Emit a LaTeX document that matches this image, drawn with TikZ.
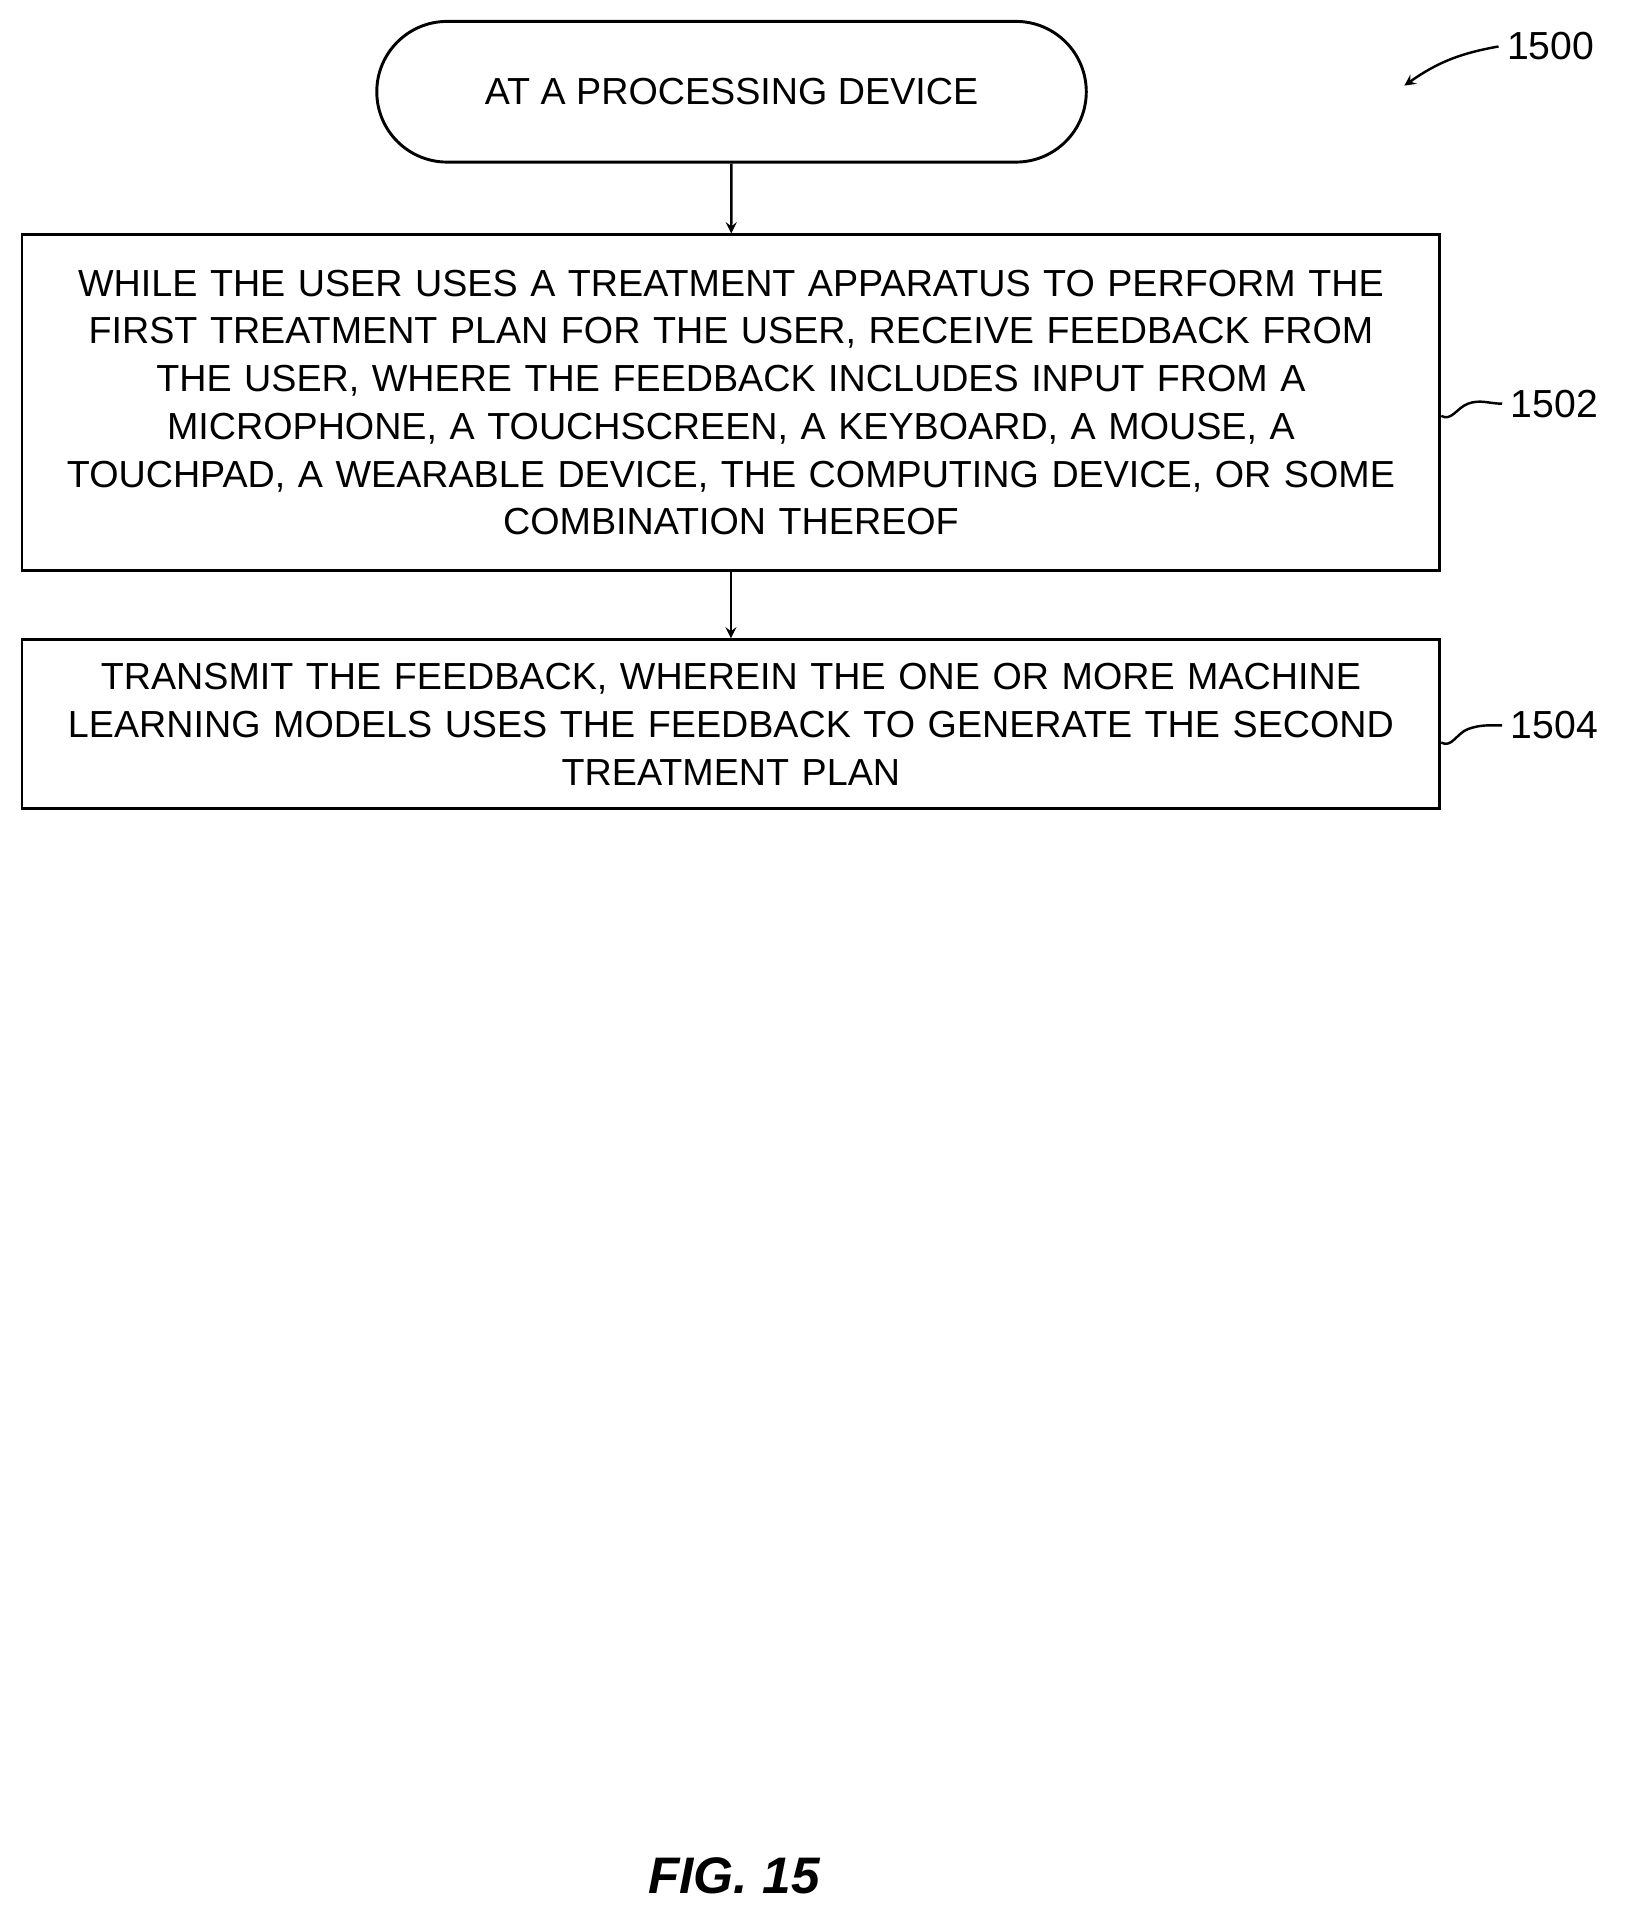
\documentclass[tikz,border=0pt]{standalone}
\usepackage{fontspec}
\setmainfont{Liberation Sans}
\usetikzlibrary{positioning}
\begin{document}
\begin{tikzpicture}[x=0.5pt,y=-0.5pt,
    stepbox/.style={draw,line width=1.2pt,text width=579.5pt,align=center,
      font=\fontsize{15.4}{19.5}\selectfont,inner sep=0pt},
    flow/.style={->,>=stealth,line width=1pt},
    refnum/.style={font=\fontsize{16}{19}\selectfont,anchor=west}]

    \useasboundingbox (0,0) rectangle (1330,1563);

    % --- Start terminal ---
    \node[draw,line width=1.2pt,rounded corners=28.75pt,minimum width=290pt,
      minimum height=57.5pt,font=\fontsize{15.4}{19.5}\selectfont]
      (start) at (598,75) {AT A PROCESSING DEVICE};

    % --- Steps ---
    \node[stepbox,minimum height=137pt] (feedback) at (597.5,329)
      {WHILE THE USER USES A TREATMENT APPARATUS TO PERFORM THE\\
       FIRST TREATMENT PLAN FOR THE USER, RECEIVE FEEDBACK FROM\\
       THE USER, WHERE THE FEEDBACK INCLUDES INPUT FROM A\\
       MICROPHONE, A TOUCHSCREEN, A KEYBOARD, A MOUSE, A\\
       TOUCHPAD, A WEARABLE DEVICE, THE COMPUTING DEVICE, OR SOME\\
       COMBINATION THEREOF};
    \node[stepbox,minimum height=69pt] (transmit) at (597.5,592)
      {TRANSMIT THE FEEDBACK, WHEREIN THE ONE OR MORE MACHINE\\
       LEARNING MODELS USES THE FEEDBACK TO GENERATE THE SECOND\\
       TREATMENT PLAN};

    % --- Connectors ---
    \draw[flow] (start) -- (feedback);
    \draw[flow] (feedback) -- (transmit);

    % --- Reference numerals ---
    \node[refnum] (n1500) at (1225,38) {1500};
    \coordinate (tip1500) at (1148,70);
    \draw[flow] (n1500.west) to[out=190,in=35] (tip1500);

    \node[refnum] (n1502) at (1228,330) {1502};
    \draw[line width=1pt] (feedback.east |- 0,340) to[out=-30,in=200] (1200,330)
      to[out=20,in=180] (n1502.west);

    \node[refnum] (n1504) at (1228,593) {1504};
    \draw[line width=1pt] (transmit.east |- 0,607) to[out=-30,in=200] (1200,596)
      to[out=20,in=180] (n1504.west);

    % --- Figure caption ---
    \node[font=\fontsize{21}{25}\selectfont\bfseries\itshape] (caption) at (600,1533) {FIG. 15};

\end{tikzpicture}
\end{document}
